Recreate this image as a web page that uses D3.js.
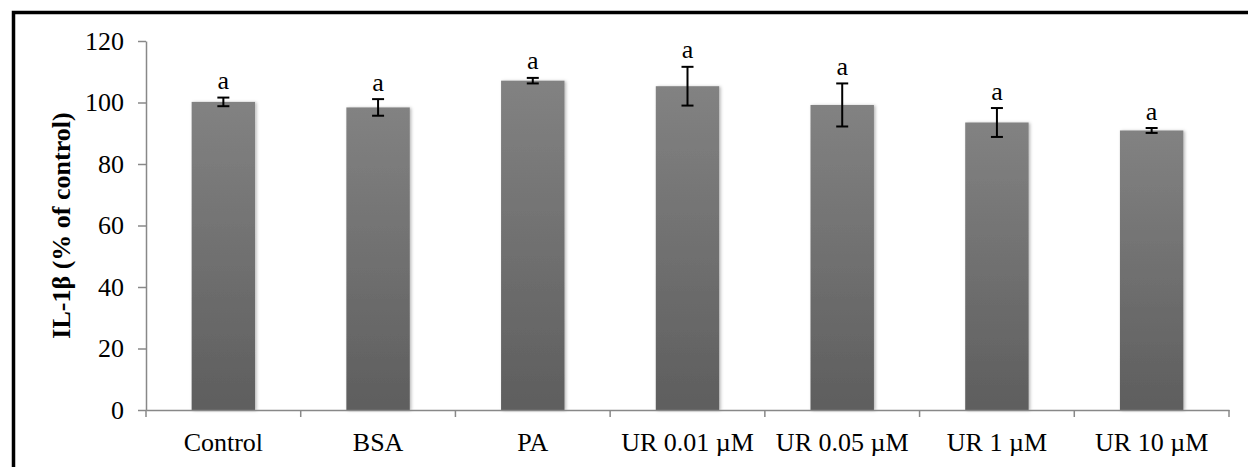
<!DOCTYPE html>
<html>
<head>
<meta charset="utf-8">
<script src="https://cdn.jsdelivr.net/npm/d3@7"></script>
<style>
html,body{margin:0;padding:0;background:#fff;overflow:hidden;}
svg{display:block;}
text{font-family:"Liberation Serif","Times New Roman",serif;}
</style>
</head>
<body>
<svg id="chart" width="1248" height="467"></svg>
<script>
const categories = ["Control", "BSA", "PA", "UR 0.01 µM", "UR 0.05 µM", "UR 1 µM", "UR 10 µM"];
const values = [100.2, 98.4, 107.1, 105.3, 99.2, 93.5, 90.9];
const errors = [1.4, 2.7, 0.9, 6.3, 7.0, 4.7, 0.8];
const letters = ["a", "a", "a", "a", "a", "a", "a"];
const yTicks = [0, 20, 40, 60, 80, 100, 120];
const yLabel = "IL-1β (% of control)";

const svg = d3.select("#chart");
const W = 1248, H = 467;
const mLeft = 146, mRight = 1229, mTop = 41, mBottom = 410;

const defs = svg.append("defs");
const grad = defs.append("linearGradient").attr("id", "barGrad")
  .attr("x1", 0).attr("y1", 0).attr("x2", 0).attr("y2", 1);
grad.append("stop").attr("offset", "0%").attr("stop-color", "#828282");
grad.append("stop").attr("offset", "100%").attr("stop-color", "#5e5e5e");
const f = defs.append("filter").attr("id", "shadow")
  .attr("x", "-20%").attr("y", "-5%").attr("width", "140%").attr("height", "110%");
f.append("feDropShadow").attr("dx", 1.5).attr("dy", 0.5).attr("stdDeviation", 1.5)
  .attr("flood-color", "#000").attr("flood-opacity", 0.28);

const x = d3.scaleBand().domain(categories).range([mLeft, mRight])
  .paddingInner(0.59).paddingOuter(0.295);
const y = d3.scaleLinear().domain([0, 120]).range([mBottom, mTop]);

// frame border (cut off at right and bottom)
svg.append("rect").attr("x", 13.5).attr("y", 12.5)
  .attr("width", W + 20).attr("height", H + 20)
  .attr("fill", "none").attr("stroke", "#000").attr("stroke-width", 3.5);

// bars
svg.append("g").selectAll("rect").data(categories).join("rect")
  .attr("x", d => x(d))
  .attr("y", (d, i) => y(values[i]))
  .attr("width", x.bandwidth())
  .attr("height", (d, i) => y(0) - y(values[i]))
  .attr("fill", "url(#barGrad)")
  .attr("filter", "url(#shadow)");

// y axis
const yAxis = d3.axisLeft(y).tickValues(yTicks).tickSize(8).tickPadding(14).tickSizeOuter(0);
const gy = svg.append("g").attr("transform", `translate(${mLeft},0)`).call(yAxis);
gy.select(".domain").attr("stroke", "#888").attr("stroke-width", 1.5);
gy.selectAll(".tick line").attr("stroke", "#888").attr("stroke-width", 1.5);
gy.selectAll(".tick text").attr("font-size", 26).attr("fill", "#000")
  .attr("font-family", "'Liberation Serif','Times New Roman',serif");

// x axis
const xAxis = d3.axisBottom(x).tickSize(0).tickPadding(23);
const gx = svg.append("g").attr("transform", `translate(0,${mBottom})`).call(xAxis);
gx.select(".domain").attr("stroke", "#888").attr("stroke-width", 1.5);
gx.selectAll(".tick text").attr("font-size", 26).attr("fill", "#000")
  .attr("font-family", "'Liberation Serif','Times New Roman',serif");
// category boundary ticks
const bounds = categories.map(c => x(c) - x.step() * x.paddingInner() / 2)
  .concat([mRight]);
gx.append("g").selectAll("line").data(bounds).join("line")
  .attr("x1", d => d).attr("x2", d => d).attr("y1", 0).attr("y2", 7)
  .attr("stroke", "#888").attr("stroke-width", 1.5);

// error bars
const eb = svg.append("g").attr("stroke", "#000").attr("stroke-width", 2);
categories.forEach((c, i) => {
  const cx = x(c) + x.bandwidth() / 2;
  const y1 = y(values[i] + errors[i]), y2 = y(values[i] - errors[i]);
  eb.append("line").attr("x1", cx).attr("x2", cx).attr("y1", y1).attr("y2", y2);
  eb.append("line").attr("x1", cx - 6).attr("x2", cx + 6).attr("y1", y1).attr("y2", y1);
  eb.append("line").attr("x1", cx - 6).attr("x2", cx + 6).attr("y1", y2).attr("y2", y2);
});

// significance letters
svg.append("g").selectAll("text").data(categories).join("text")
  .attr("x", d => x(d) + x.bandwidth() / 2)
  .attr("y", (d, i) => y(values[i] + errors[i]) - 8.5)
  .attr("text-anchor", "middle").attr("font-size", 26).attr("fill", "#000")
  .text((d, i) => letters[i]);

// y label
svg.append("text")
  .attr("transform", `translate(70,${(mTop + mBottom) / 2}) rotate(-90)`)
  .attr("text-anchor", "middle").attr("font-size", 26).attr("font-weight", "bold")
  .attr("fill", "#000")
  .text(yLabel);
</script>
</body>
</html>
